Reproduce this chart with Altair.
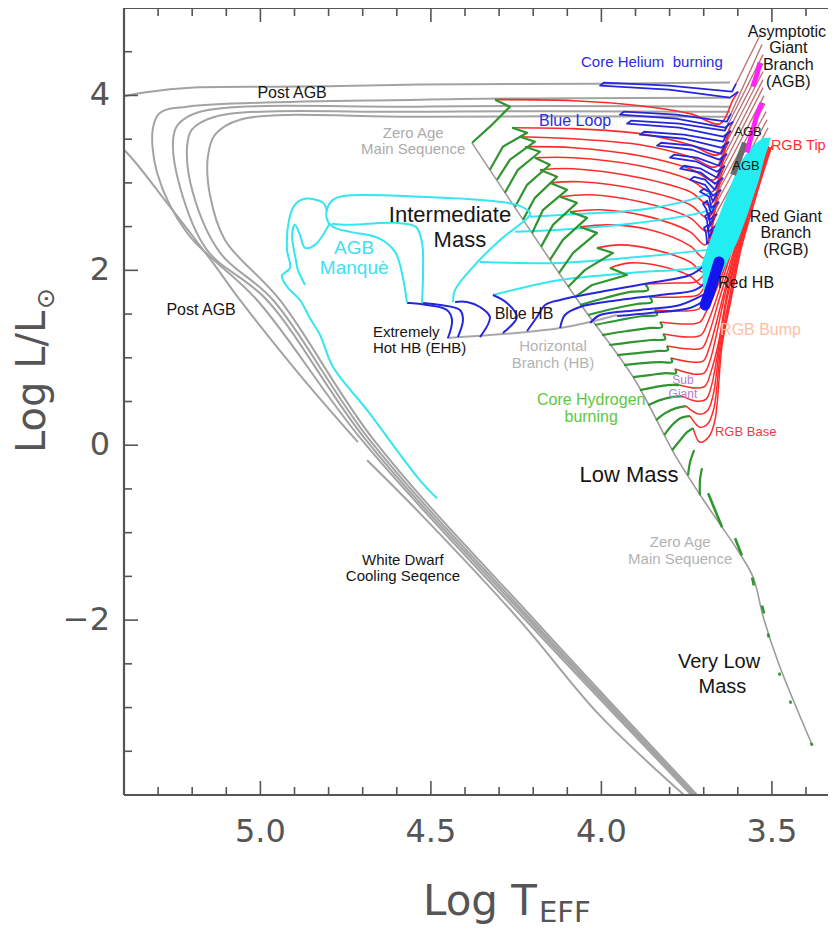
import altair as alt
import pandas as pd

# ---------------- axes ----------------
X_DOMAIN = [5.4, 3.3355]
Y_DOMAIN = [-4.0, 5.0]
X_MAJOR = [5.0, 4.5, 4.0, 3.5]
X_MINOR = [5.3, 5.2, 5.1, 4.9, 4.8, 4.7, 4.6, 4.4, 4.3, 4.2, 4.1, 3.9, 3.8, 3.7, 3.6, 3.4]
Y_MAJOR = [4, 2, 0, -2]
Y_MINOR = [4.5, 3.5, 3.0, 2.5, 1.5, 1.0, 0.5, -0.5, -1.0, -1.5, -2.5, -3.0, -3.5]

# ---------------- tracks (log Teff, log L) ----------------
ZAMS = [(4.38, 3.46), (4.07, 1.66), (3.907, 0.78), (3.78, -0.14), (3.70, -0.63), (3.594, -1.24),
        (3.555, -1.51), (3.525, -1.97), (3.48, -2.50), (3.385, -3.40)]
ZAHB = [(4.453, 1.226), (4.121, 1.340), (3.954, 1.489)]

POST_AGB = [
    [(3.623, 4.147), (4.004, 4.135), (4.532, 4.124), (4.884, 4.101), (5.206, 4.089), (5.324, 4.043),
     (5.40, 3.986), (5.46, 3.85), (5.46, 3.55), (5.40, 3.379), (5.265, 2.726), (5.139, 2.085),
     (5.060, 1.661), (4.884, 0.802), (4.714, 0.035)],
    [(4.687, -0.172), (4.532, -0.779), (4.239, -2.005), (4.004, -3.093), (3.755, -4.009)],
    [(3.623, 3.975), (4.532, 3.952), (5.215, 3.872), (5.294, 3.803), (5.315, 3.631), (5.303, 3.116),
     (5.215, 2.428), (5.010, 1.661), (4.702, 0.057), (4.221, -2.005), (3.734, -4.009)],
    [(3.623, 3.872), (4.532, 3.872), (5.177, 3.814), (5.242, 3.666), (5.256, 3.494), (5.236, 2.955),
     (5.157, 2.234), (4.981, 1.661), (4.690, 0.057), (4.212, -2.005), (3.728, -4.009)],
    [(3.623, 3.814), (4.532, 3.814), (5.133, 3.757), (5.201, 3.608), (5.215, 3.414), (5.198, 2.887),
     (5.118, 2.199), (4.963, 1.661), (4.679, 0.057), (4.204, -2.005), (3.723, -4.009)],
    [(3.623, 3.757), (4.532, 3.757), (5.060, 3.723), (5.133, 3.551), (5.154, 3.299), (5.148, 2.864),
     (5.104, 2.348), (4.943, 1.661), (4.667, 0.057), (4.195, -2.005), (3.717, -4.009)],
]

MS_INTERMEDIATE = [
    [(4.379, 3.459), (4.327, 3.643), (4.268, 3.872), (4.312, 3.952)],
    [(4.327, 3.150), (4.289, 3.414), (4.218, 3.574), (4.262, 3.631)],
    [(4.306, 3.036), (4.268, 3.265), (4.195, 3.471), (4.239, 3.528)],
    [(4.283, 2.887), (4.245, 3.150), (4.180, 3.356), (4.224, 3.414)],
    [(4.253, 2.726), (4.218, 2.978), (4.151, 3.207), (4.195, 3.288)],
    [(4.230, 2.577), (4.195, 2.829), (4.130, 3.070), (4.180, 3.150)],
    [(4.203, 2.428), (4.171, 2.692), (4.101, 2.921), (4.151, 3.001)],
    [(4.177, 2.268), (4.142, 2.520), (4.072, 2.772), (4.121, 2.841)],
    [(4.151, 2.119), (4.113, 2.348), (4.042, 2.600), (4.092, 2.669)],
    [(4.124, 1.970), (4.083, 2.199), (4.013, 2.428), (4.063, 2.497)],
    [(4.098, 1.810), (4.048, 2.005), (3.966, 2.199), (4.013, 2.257)],
    [(4.077, 1.695), (4.027, 1.833), (3.925, 1.947), (3.975, 2.028)],
]

RGB_INTERMEDIATE = [
    [(4.312, 3.952), (4.083, 3.940), (3.887, 3.883), (3.740, 3.792), (3.652, 3.677), (3.614, 3.952), (3.599, 4.043)],
    [(4.262, 3.631), (4.083, 3.620), (3.887, 3.563), (3.740, 3.436), (3.658, 3.322), (3.623, 3.631), (3.614, 3.700)],
    [(4.239, 3.528), (4.083, 3.505), (3.887, 3.436), (3.740, 3.299), (3.664, 3.184), (3.629, 3.528), (3.620, 3.597)],
    [(4.224, 3.414), (4.083, 3.402), (3.887, 3.310), (3.740, 3.162), (3.670, 3.036), (3.635, 3.402), (3.626, 3.471)],
    [(4.195, 3.288), (4.083, 3.288), (3.887, 3.196), (3.740, 3.036), (3.676, 2.898), (3.641, 3.265), (3.632, 3.333)],
    [(4.180, 3.150), (4.083, 3.162), (3.887, 3.058), (3.740, 2.898), (3.682, 2.749), (3.646, 3.127), (3.638, 3.196)],
    [(4.151, 3.001), (4.063, 3.013), (3.887, 2.921), (3.740, 2.749), (3.687, 2.600), (3.652, 2.990), (3.643, 3.058)],
    [(4.121, 2.841), (4.033, 2.864), (3.887, 2.784), (3.740, 2.600), (3.693, 2.451), (3.658, 2.852), (3.649, 2.921)],
    [(4.092, 2.669), (4.004, 2.692), (3.872, 2.623), (3.740, 2.440), (3.696, 2.291), (3.664, 2.715), (3.655, 2.784)],
    [(4.063, 2.497), (3.975, 2.520), (3.858, 2.463), (3.740, 2.280), (3.699, 2.142), (3.670, 2.577), (3.661, 2.646)],
    [(4.013, 2.257), (3.946, 2.291), (3.843, 2.234), (3.740, 2.096), (3.702, 1.982), (3.673, 2.440), (3.664, 2.509)],
    [(3.975, 2.028), (3.916, 2.085), (3.828, 2.050), (3.740, 1.936), (3.705, 1.833), (3.676, 2.303), (3.667, 2.371)],
]

BLUE_LOOPS = [
    [(3.599, 4.043), (3.623, 3.975), (3.802, 4.066), (4.004, 4.112), (3.992, 4.147), (3.802, 4.112), (3.617, 4.043), (3.605, 4.135)],
    [(3.614, 3.700), (3.638, 3.631), (3.781, 3.734), (3.946, 3.780), (3.934, 3.814), (3.781, 3.780), (3.632, 3.700), (3.620, 3.792)],
    [(3.620, 3.597), (3.643, 3.528), (3.772, 3.631), (3.925, 3.677), (3.913, 3.711), (3.772, 3.677), (3.638, 3.597), (3.626, 3.688)],
    [(3.626, 3.471), (3.649, 3.402), (3.758, 3.505), (3.887, 3.551), (3.875, 3.585), (3.758, 3.551), (3.643, 3.471), (3.632, 3.563)],
    [(3.632, 3.333), (3.655, 3.265), (3.734, 3.379), (3.837, 3.425), (3.825, 3.459), (3.734, 3.425), (3.649, 3.333), (3.638, 3.425)],
    [(3.638, 3.196), (3.661, 3.127), (3.720, 3.242), (3.799, 3.288), (3.787, 3.322), (3.720, 3.288), (3.655, 3.196), (3.643, 3.288)],
    [(3.643, 3.058), (3.667, 2.990), (3.708, 3.116), (3.769, 3.162), (3.758, 3.196), (3.708, 3.162), (3.661, 3.058), (3.649, 3.150)],
    [(3.649, 2.921), (3.673, 2.852), (3.696, 2.978), (3.740, 3.036), (3.728, 3.070), (3.696, 3.036), (3.667, 2.921), (3.655, 3.013)],
    [(3.655, 2.784), (3.678, 2.715), (3.684, 2.841), (3.711, 2.898), (3.699, 2.933), (3.684, 2.898), (3.673, 2.784), (3.661, 2.875)],
    [(3.661, 2.646), (3.684, 2.577), (3.693, 2.703), (3.702, 2.761), (3.690, 2.795), (3.687, 2.761), (3.678, 2.646), (3.667, 2.738)],
    [(3.664, 2.509), (3.687, 2.440), (3.690, 2.566), (3.696, 2.623), (3.684, 2.657), (3.684, 2.623), (3.681, 2.509), (3.670, 2.600)],
    [(3.667, 2.371), (3.690, 2.303), (3.693, 2.428), (3.699, 2.486), (3.687, 2.520), (3.687, 2.486), (3.684, 2.371), (3.673, 2.463)],
]

AGB_LINES = [
    [(3.605, 4.135), (3.535, 4.685)], [(3.620, 3.792), (3.529, 4.582)], [(3.626, 3.688), (3.526, 4.467)],
    [(3.632, 3.563), (3.526, 4.364)], [(3.638, 3.425), (3.526, 4.273)], [(3.643, 3.288), (3.526, 4.181)],
    [(3.649, 3.150), (3.526, 4.089)], [(3.655, 3.013), (3.523, 3.998)], [(3.661, 2.875), (3.520, 3.906)],
    [(3.667, 2.738), (3.517, 3.815)], [(3.670, 2.600), (3.514, 3.723)], [(3.673, 2.463), (3.511, 3.631)],
]
AGB_TIPS = [
    [(3.556, 4.101), (3.544, 4.238), (3.535, 4.376)],
    [(3.573, 3.345), (3.558, 3.574), (3.544, 3.780), (3.529, 3.918)],
]
AGB_DARK = [[(3.614, 3.093), (3.579, 3.459)]]

MS_LOW = [
    [(4.063, 1.604), (3.989, 1.684), (3.916, 1.753), (3.863, 1.776), (3.872, 1.844)],
    [(4.039, 1.489), (3.969, 1.558), (3.896, 1.615), (3.852, 1.638), (3.858, 1.695)],
    [(4.019, 1.375), (3.946, 1.432), (3.878, 1.478), (3.837, 1.489), (3.843, 1.547)],
    [(3.998, 1.260), (3.925, 1.306), (3.863, 1.340), (3.822, 1.352), (3.828, 1.409)],
    [(3.977, 1.146), (3.910, 1.180), (3.852, 1.203), (3.813, 1.214), (3.819, 1.272)],
    [(3.954, 1.031), (3.893, 1.054), (3.840, 1.077), (3.805, 1.088), (3.808, 1.134)],
    [(3.934, 0.916), (3.878, 0.939), (3.828, 0.951), (3.793, 0.951), (3.796, 0.997)],
    [(3.907, 0.779), (3.858, 0.802), (3.813, 0.825), (3.781, 0.825), (3.784, 0.871)],
    [(3.887, 0.630), (3.843, 0.665), (3.805, 0.688), (3.772, 0.688)],
    [(3.863, 0.458), (3.828, 0.516), (3.793, 0.550), (3.764, 0.561)],
    [(3.840, 0.286), (3.813, 0.367), (3.781, 0.424), (3.752, 0.447)],
    [(3.816, 0.115), (3.793, 0.229), (3.767, 0.310), (3.740, 0.332)],
    [(3.793, -0.057), (3.769, 0.057), (3.749, 0.149), (3.731, 0.195)],
    [(3.746, -0.344), (3.740, -0.195), (3.728, -0.057)],
    [(3.711, -0.573), (3.711, -0.401), (3.705, -0.263)],
]
MS_VERY_LOW = [
    [(3.687, -0.550), (3.646, -0.939)], [(3.608, -1.065), (3.588, -1.260)], [(3.558, -1.512), (3.553, -1.604)],
    [(3.529, -1.833), (3.523, -1.924)], [(3.5115, -2.153), (3.509, -2.199)], [(3.479, -2.600), (3.476, -2.635)],
    [(3.447, -2.921), (3.444, -2.955)], [(3.385, -3.402), (3.382, -3.437)],
]

RGB_LOW = [
    [(3.872, 1.844), (3.784, 1.856), (3.725, 1.867), (3.702, 1.936), (3.638, 2.234), (3.599, 2.692), (3.564, 3.036), (3.517, 3.425)],
    [(3.858, 1.695), (3.769, 1.695), (3.717, 1.718), (3.699, 1.799), (3.632, 2.234), (3.594, 2.692), (3.561, 3.036), (3.517, 3.425)],
    [(3.843, 1.547), (3.761, 1.535), (3.714, 1.558), (3.696, 1.661), (3.626, 2.234), (3.591, 2.692), (3.558, 3.036), (3.514, 3.425)],
    [(3.828, 1.409), (3.752, 1.386), (3.711, 1.409), (3.693, 1.524), (3.676, 1.661), (3.620, 2.234), (3.585, 2.692), (3.555, 3.036), (3.514, 3.425)],
    [(3.819, 1.272), (3.746, 1.237), (3.708, 1.260), (3.690, 1.386), (3.664, 1.661), (3.617, 2.234), (3.582, 2.692), (3.553, 3.036), (3.512, 3.425)],
    [(3.808, 1.134), (3.740, 1.100), (3.705, 1.111), (3.687, 1.249), (3.655, 1.661), (3.611, 2.234), (3.579, 2.692), (3.550, 3.036), (3.512, 3.425)],
    [(3.796, 0.997), (3.734, 0.951), (3.702, 0.962), (3.684, 1.111), (3.646, 1.661), (3.608, 2.234), (3.576, 2.692), (3.547, 3.036), (3.509, 3.414)],
    [(3.784, 0.871), (3.728, 0.813), (3.699, 0.825), (3.681, 0.974), (3.641, 1.661), (3.605, 2.234), (3.573, 2.692), (3.544, 3.036), (3.509, 3.414)],
    [(3.772, 0.688), (3.723, 0.653), (3.696, 0.676), (3.679, 0.836), (3.658, 1.146), (3.635, 1.661), (3.602, 2.234), (3.570, 2.692), (3.544, 3.036), (3.506, 3.402)],
    [(3.764, 0.561), (3.720, 0.504), (3.693, 0.527), (3.676, 0.699), (3.655, 1.146), (3.632, 1.661), (3.599, 2.234), (3.567, 2.692), (3.541, 3.036), (3.506, 3.402)],
    [(3.752, 0.447), (3.714, 0.356), (3.690, 0.390), (3.673, 0.561), (3.652, 1.146), (3.626, 1.661), (3.597, 2.234), (3.564, 2.692), (3.538, 3.036), (3.503, 3.402)],
    [(3.740, 0.332), (3.711, 0.206), (3.687, 0.252), (3.670, 0.424), (3.649, 1.146), (3.623, 1.661), (3.594, 2.234), (3.561, 2.692), (3.535, 3.036), (3.503, 3.402)],
    [(3.731, 0.195), (3.711, 0.035), (3.684, 0.103), (3.667, 0.286), (3.646, 1.146), (3.620, 1.661), (3.591, 2.234), (3.558, 2.692), (3.532, 3.036), (3.500, 3.425)],
]

HB_TRACKS = [
    [(4.450, 1.226), (4.438, 1.432), (4.453, 1.547), (4.511, 1.604), (4.561, 1.627), (4.570, 1.627)],
    [(4.421, 1.237), (4.406, 1.432), (4.415, 1.547), (4.473, 1.604), (4.523, 1.627)],
    [(4.356, 1.237), (4.327, 1.466), (4.356, 1.581), (4.394, 1.638), (4.429, 1.638)],
    [(4.289, 1.283), (4.248, 1.466), (4.277, 1.627), (4.318, 1.718)],
    [(4.218, 1.306), (4.189, 1.466), (4.165, 1.604), (4.121, 1.661), (4.004, 1.753), (3.858, 1.856), (3.740, 1.947), (3.696, 2.062)],
    [(4.121, 1.340), (4.107, 1.489), (4.063, 1.581), (3.946, 1.661), (3.828, 1.718), (3.725, 1.776), (3.687, 1.890)],
    [(4.033, 1.398), (4.004, 1.489), (3.887, 1.547), (3.769, 1.604), (3.702, 1.718)],
    [(3.954, 1.478), (3.858, 1.512), (3.740, 1.570), (3.696, 1.661)],
]
RED_HB = [[(3.696, 1.604), (3.676, 1.833), (3.655, 2.096)]]

AGB_MANQUE = [
    [(4.570, 1.627), (4.582, 1.913), (4.605, 2.211), (4.655, 2.371), (4.737, 2.440), (4.781, 2.486), (4.802, 2.555),
     (4.805, 2.692), (4.787, 2.806), (4.752, 2.852), (4.532, 2.841), (4.327, 2.795), (4.239, 2.738), (4.209, 2.646),
     (4.230, 2.555), (4.297, 2.348), (4.371, 2.062), (4.429, 1.776), (4.435, 1.638)],
    [(4.526, 1.627), (4.523, 2.005), (4.526, 2.314), (4.544, 2.497), (4.605, 2.543), (4.752, 2.520), (4.790, 2.532)],
    [(4.805, 2.669), (4.816, 2.772), (4.869, 2.818), (4.899, 2.749), (4.916, 2.577), (4.922, 2.234), (4.913, 2.028),
     (4.937, 1.936), (4.919, 1.799), (4.884, 1.661), (4.855, 1.455), (4.825, 1.260), (4.787, 0.894), (4.687, 0.401),
     (4.532, -0.401), (4.482, -0.607)],
    [(4.796, 2.543), (4.840, 2.291), (4.869, 2.257), (4.884, 2.406), (4.899, 2.520), (4.907, 2.394), (4.896, 2.119),
     (4.890, 2.005), (4.869, 1.833)],
]
HB_TO_AGB = [
    [(4.209, 2.612), (4.063, 2.646), (3.887, 2.692), (3.740, 2.806), (3.676, 2.898)],
    [(4.253, 2.440), (4.121, 2.463), (3.916, 2.532), (3.711, 2.657), (3.667, 2.715)],
    [(4.356, 2.096), (4.121, 2.085), (3.887, 2.154), (3.690, 2.234)],
    [(4.318, 1.718), (4.121, 1.890), (3.916, 1.970), (3.711, 2.039), (3.681, 2.096)],
]
EAGB_L = [1.776, 2.085, 2.348, 2.657, 3.036, 3.265, 3.436, 3.517]
EAGB_T_HOT = [3.702, 3.705, 3.681, 3.652, 3.614, 3.588, 3.553, 3.526]
EAGB_T_COOL = [3.676, 3.632, 3.599, 3.570, 3.538, 3.523, 3.509, 3.503]

# text, logT, logL, colour, size, align
LABELS = [
    ("Post AGB", 4.907, 4.032, "#161616", 16, "center"),
    ("Post AGB", 5.174, 1.546, "#161616", 16, "center"),
    ("Zero Age", 4.552, 3.574, "#ababab", 15, "center"),
    ("Main Sequence", 4.552, 3.391, "#ababab", 15, "center"),
    ("Core Helium\u00a0 burning", 3.852, 4.387, "#2b2be6", 15, "center"),
    ("Blue Loop", 4.077, 3.711, "#2b2be6", 16, "center"),
    ("Asymptotic", 3.456, 4.731, "#161616", 16, "center"),
    ("Giant", 3.452, 4.548, "#161616", 16, "center"),
    ("Branch", 3.452, 4.353, "#161616", 16, "center"),
    ("(AGB)", 3.452, 4.158, "#161616", 16, "center"),
    ("AGB", 3.570, 3.585, "#161616", 13, "center"),
    ("AGB", 3.576, 3.196, "#161616", 13, "center"),
    ("RGB Tip", 3.503, 3.425, "#ff3030", 14.5, "left"),
    ("Red Giant", 3.459, 2.612, "#161616", 16, "center"),
    ("Branch", 3.459, 2.428, "#161616", 16, "center"),
    ("(RGB)", 3.459, 2.234, "#161616", 16, "center"),
    ("Red HB", 3.658, 1.856, "#161616", 16, "left"),
    ("RGB Bump", 3.652, 1.317, "#ffbea3", 16, "left"),
    ("Sub", 3.761, 0.750, "#b67ccc", 12, "center"),
    ("Giant", 3.761, 0.590, "#b67ccc", 12, "center"),
    ("RGB Base", 3.667, 0.149, "#f0384c", 13, "left"),
    ("Core Hydrogen", 4.030, 0.520, "#5ec83e", 16, "center"),
    ("burning", 4.030, 0.328, "#5ec83e", 16, "center"),
    ("Low Mass", 3.919, -0.344, "#161616", 22, "center"),
    ("Horizontal", 4.142, 1.130, "#b3b3b3", 15, "center"),
    ("Branch (HB)", 4.142, 0.944, "#b3b3b3", 15, "center"),
    ("Extremely", 4.670, 1.300, "#161616", 15, "left"),
    ("Hot HB (EHB)", 4.670, 1.117, "#161616", 15, "left"),
    ("Blue HB", 4.227, 1.501, "#161616", 16, "center"),
    ("Intermediate", 4.444, 2.628, "#161616", 22, "center"),
    ("Mass", 4.415, 2.343, "#161616", 22, "center"),
    ("AGB", 4.725, 2.252, "#3ee0f0", 19, "center"),
    ("Manquè", 4.725, 2.021, "#3ee0f0", 19, "center"),
    ("White Dwarf", 4.582, -1.314, "#161616", 15, "center"),
    ("Cooling Seqence", 4.582, -1.498, "#161616", 15, "center"),
    ("Zero Age", 3.769, -1.105, "#b3b3b3", 15, "center"),
    ("Main Sequence", 3.769, -1.300, "#b3b3b3", 15, "center"),
    ("Very Low", 3.655, -2.480, "#161616", 20, "center"),
    ("Mass", 3.645, -2.767, "#161616", 20, "center"),
]

# ---------------- build chart ----------------
W, H = 704, 787
AX = "#555555"
xs = alt.Scale(domain=X_DOMAIN, zero=False, nice=False)
ys = alt.Scale(domain=Y_DOMAIN, zero=False, nice=False)
X = alt.X("T:Q", scale=xs, axis=None)
Y = alt.Y("L:Q", scale=ys, axis=None)


def track_df(tracks):
    rows = []
    for k, tr in enumerate(tracks):
        for i, (t, l) in enumerate(tr):
            rows.append({"track": k, "i": i, "T": t, "L": l})
    return pd.DataFrame(rows)


def lines(tracks, color, width, interp="catmull-rom", opacity=1.0, cap="butt"):
    return alt.Chart(track_df(tracks)).mark_line(
        color=color, strokeWidth=width, interpolate=interp, clip=True,
        opacity=opacity, strokeCap=cap, strokeJoin="round"
    ).encode(x=X, y=Y, detail="track:N", order="i:Q")


layers = [
    lines(POST_AGB, "#a3a3a3", 2.0),
    lines([ZAMS], "#9c9c9c", 1.6),
    lines([ZAHB], "#a8a8a8", 2.0),
    lines(RGB_INTERMEDIATE, "#ff2b2b", 1.6),
    lines(AGB_LINES, "#b05656", 1.3, interp="linear", opacity=0.85),
    lines(RGB_LOW, "#ff2b2b", 1.5),
    lines(HB_TO_AGB, "#33e6f0", 2.0),
    lines(MS_INTERMEDIATE, "#2f952f", 2.2, interp="linear"),
    lines(MS_LOW, "#2f952f", 2.2),
    lines(MS_VERY_LOW, "#2f952f", 2.6, interp="linear"),
    lines(BLUE_LOOPS, "#2626dc", 1.8, interp="linear"),
    lines(HB_TRACKS, "#2626dc", 2.0),
    lines(AGB_MANQUE, "#33e6f0", 2.0),
]

band = pd.DataFrame({"L": EAGB_L, "Th": EAGB_T_HOT, "Tc": EAGB_T_COOL})
layers.append(
    alt.Chart(band).mark_area(orient="horizontal", color="#22eef2", clip=True).encode(
        y=alt.Y("L:Q", scale=ys, axis=None),
        x=alt.X("Th:Q", scale=xs, axis=None),
        x2=alt.X2("Tc:Q"),
    )
)
layers += [
    lines(AGB_DARK, "#6a6a6a", 6, interp="linear"),
    lines(RED_HB, "#1414ee", 11, interp="catmull-rom", cap="round"),
    lines(AGB_TIPS, "#ff22ff", 5, interp="linear"),
]

# frame and inward ticks
one = pd.DataFrame({"a": [0]})
for enc in [
    dict(x=alt.value(0), y=alt.value(0), y2=alt.value(H)),
    dict(y=alt.value(H), x=alt.value(0), x2=alt.value(W)),
    dict(y=alt.value(0), x=alt.value(0), x2=alt.value(W)),
]:
    layers.append(alt.Chart(one).mark_rule(color=AX, strokeWidth=2.2).encode(**enc))

for vals, ln in [(X_MAJOR, 14), (X_MINOR, 8)]:
    d = pd.DataFrame({"T": vals})
    layers.append(alt.Chart(d).mark_rule(color=AX, strokeWidth=1.6).encode(
        x=X, y=alt.value(H - ln), y2=alt.value(H)))
    layers.append(alt.Chart(d).mark_rule(color=AX, strokeWidth=1.6).encode(
        x=X, y=alt.value(0), y2=alt.value(ln)))
for vals, ln in [(Y_MAJOR, 14), (Y_MINOR, 8)]:
    d = pd.DataFrame({"L": vals})
    layers.append(alt.Chart(d).mark_rule(color=AX, strokeWidth=1.6).encode(
        y=Y, x=alt.value(0), x2=alt.value(ln)))

# tick labels
layers.append(
    alt.Chart(pd.DataFrame({"T": X_MAJOR})).mark_text(
        font="DejaVu Sans", fontSize=32, color=AX, baseline="top", align="center"
    ).encode(x=X, y=alt.value(H + 22), text=alt.Text("T:Q", format=".1f"))
)
layers.append(
    alt.Chart(pd.DataFrame({"L": Y_MAJOR})).mark_text(
        font="DejaVu Sans", fontSize=32, color=AX, baseline="middle", align="right"
    ).encode(y=Y, x=alt.value(-14), text=alt.Text("L:Q", format="d"))
)

# labels
lab = pd.DataFrame(LABELS, columns=["text", "T", "L", "color", "size", "align"])
for al in ["center", "left"]:
    layers.append(
        alt.Chart(lab[lab["align"] == al]).mark_text(
            font="Liberation Sans", baseline="middle", align=al
        ).encode(
            x=X, y=Y, text="text:N",
            color=alt.Color("color:N", scale=None),
            size=alt.Size("size:Q", scale=None),
        )
    )


# axis titles
def title_text(txt, x, y, size, angle=0):
    return alt.Chart(one).mark_text(
        text=txt, font="DejaVu Sans", fontSize=size, color=AX, align="left",
        baseline="alphabetic", angle=angle
    ).encode(x=alt.value(x), y=alt.value(y))


layers += [
    title_text("Log L/L", -79, 445, 40, 270),
    title_text("\u2299", -70, 301, 25, 270),
    title_text("Log T", 299, 907, 42),
    title_text("EFF", 415, 914, 29),
]

chart = alt.layer(*layers).properties(
    width=W, height=H,
    padding={"left": 116, "top": 0, "right": 0, "bottom": 137},
    autosize=alt.AutoSizeParams(type="none"),
).configure_view(stroke=None)

chart.save("out.html", embed_options={"renderer": "svg", "actions": False})
